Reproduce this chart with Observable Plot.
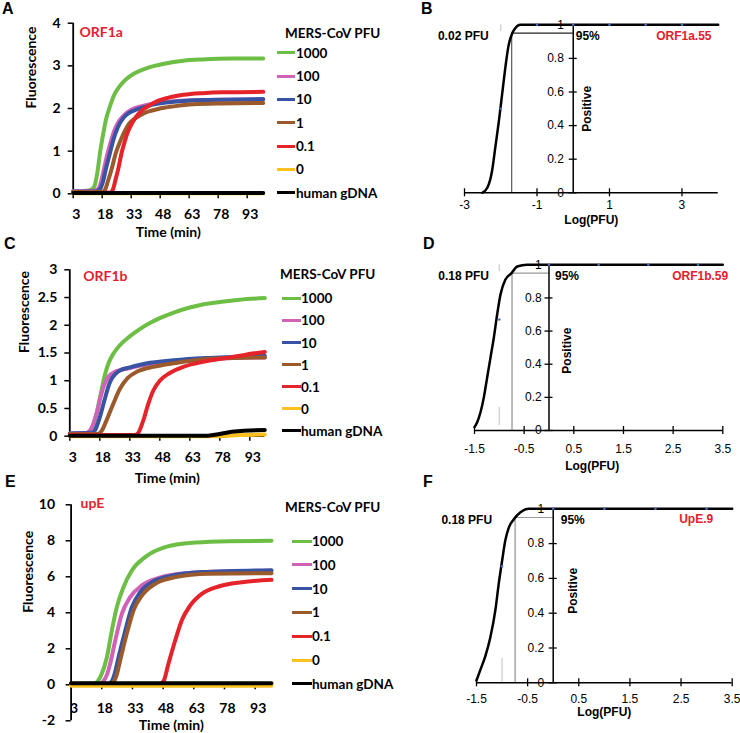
<!DOCTYPE html>
<html><head><meta charset="utf-8">
<script src="https://cdn.jsdelivr.net/npm/d3@7"></script>
<script src="https://cdn.jsdelivr.net/npm/@observablehq/plot@0.6"></script>
<style>
body{margin:0;background:#fff;}
#fig{position:relative;width:740px;height:733px;overflow:hidden;background:#fff;}
.pl{position:absolute;}
.letter{position:absolute;font:bold 16px "Liberation Sans",Arial,sans-serif;line-height:16px;}
.lg{position:absolute;font:bold 13.5px Lato,sans-serif;line-height:16px;white-space:nowrap;color:#000;}
.sw{position:absolute;height:3px;}
</style></head><body><div id="fig"></div>
<script>
// ---------- shared categories ----------
const pfuLevels = ["1000", "100", "10", "1", "0.1", "0", "human gDNA"];
const pfuColors = ["#6dbe45", "#d062b8", "#3853a4", "#9a5a2c", "#e6232b", "#fdc11f", "#000000"];
const timeTicks = [3, 18, 33, 48, 63, 78, 93];
const probTicks = [0, 0.2, 0.4, 0.6, 0.8, 1];
const hitLevel = 0.95;

// ---------- A: ORF1a fluorescence (time, value) ----------
const orf1a_1000 = [[3,0.06],[11,0.08],[12.5,0.1],[14,0.18],[15.5,0.5],[17,1.0],[18.5,1.4],[20,1.75],[22,2.05],[24,2.3],[27,2.52],[30,2.67],[35,2.83],[40,2.93],[45,3.0],[50,3.05],[60,3.12],[70,3.15],[85,3.17],[101.3,3.17]];
const orf1a_100  = [[3,0.06],[14,0.07],[16,0.12],[17.5,0.3],[19,0.6],[20.5,0.9],[22,1.15],[24,1.45],[26,1.65],[29,1.83],[33,1.97],[38,2.05],[45,2.12],[55,2.17],[70,2.2],[101.3,2.21]];
const orf1a_10   = [[3,0.05],[15,0.06],[17,0.12],[18.5,0.3],[20,0.6],[22,0.95],[24,1.3],[26,1.55],[29,1.78],[32,1.9],[36,1.98],[40,2.04],[48,2.12],[55,2.16],[70,2.2],[101.3,2.22]];
const orf1a_1    = [[3,0.04],[18,0.05],[19.5,0.1],[21,0.3],[23,0.6],[25,0.95],[27.5,1.25],[30,1.5],[32,1.65],[35,1.77],[38,1.85],[42,1.93],[47,1.99],[55,2.05],[65,2.1],[80,2.12],[101.3,2.13]];
const orf1a_01   = [[3,0.02],[22,0.03],[23.5,0.1],[25,0.35],[26.5,0.62],[28,0.95],[29.5,1.2],[31,1.42],[33,1.62],[35.5,1.8],[38,1.93],[42,2.06],[46,2.16],[52,2.25],[60,2.32],[70,2.36],[80,2.38],[101.3,2.39]];
const orf1a_0    = [[3,0.01],[101.3,0.01]];
const orf1a_gDNA = [[3,0.02],[101.3,0.02]];

// ---------- C: ORF1b fluorescence ----------
const orf1b_1000 = [[3,0.05],[12,0.06],[14,0.12],[16,0.35],[18,0.68],[20.5,1.1],[22.5,1.33],[25,1.5],[28,1.64],[33,1.8],[38,1.93],[43,2.04],[48,2.13],[55,2.23],[63,2.32],[70,2.38],[78,2.42],[88,2.46],[100.5,2.49]];
const orf1b_100  = [[3,0.05],[11,0.06],[13,0.1],[15,0.25],[16.5,0.42],[18.5,0.72],[20.5,0.95],[22.5,1.08],[25,1.15],[28,1.19],[32,1.22],[38,1.27],[45,1.31],[55,1.35],[70,1.39],[85,1.41],[100.5,1.42]];
const orf1b_10   = [[3,0.05],[14,0.06],[15.5,0.1],[18,0.34],[20.5,0.67],[23,0.97],[26,1.13],[29,1.2],[33,1.24],[41,1.31],[55,1.37],[71,1.41],[85,1.43],[100.5,1.45]];
const orf1b_1    = [[3,0.04],[17,0.04],[19,0.1],[21.3,0.28],[24.7,0.58],[28,0.85],[32,1.05],[37,1.17],[44.7,1.25],[56,1.32],[66,1.37],[76,1.4],[100.5,1.42]];
const orf1b_01   = [[3,0.02],[35,0.02],[37,0.05],[39.7,0.28],[42.2,0.58],[44.7,0.82],[48,1.0],[53,1.14],[59.7,1.25],[71,1.35],[81,1.41],[91,1.47],[100.5,1.52]];
const orf1b_0    = [[3,0.0],[78,0.0],[88,0.02],[100.5,0.03]];
const orf1b_gDNA = [[3,0.01],[72,0.01],[78,0.04],[84,0.08],[90,0.1],[100.5,0.11]];

// ---------- E: upE fluorescence ----------
const upE_1000 = [[3,0.05],[14,0.07],[16,0.2],[18,0.61],[20.5,1.53],[22.9,3.0],[25.3,4.3],[28.6,5.42],[32.7,6.35],[39.2,7.09],[49,7.65],[63.7,7.9],[80,7.98],[101,8.0]];
const upE_100  = [[3,0.05],[17,0.06],[18.8,0.2],[20.5,0.55],[22.1,1.17],[24.6,2.46],[27.8,3.94],[31.9,4.87],[37.6,5.52],[45.8,5.94],[58.8,6.2],[80,6.3],[101,6.33]];
const upE_10   = [[3,0.04],[21,0.05],[22.9,0.2],[24.5,0.7],[26.2,1.53],[29.5,3.02],[32.7,4.31],[36.8,5.15],[42.5,5.7],[50.7,6.02],[67,6.26],[101,6.37]];
const upE_1    = [[3,0.04],[22,0.05],[23.7,0.15],[25.3,0.55],[27,1.35],[30.2,2.83],[33.5,4.13],[37.6,4.96],[44.1,5.61],[54,5.98],[70.3,6.17],[101,6.2]];
const upE_01   = [[3,0.02],[46,0.02],[48.2,0.2],[50.6,1.17],[53.9,2.46],[57.1,3.57],[61.2,4.4],[66.9,5.05],[75.1,5.46],[86.5,5.7],[101,5.83]];
const upE_0    = [[3,-0.05],[101,-0.05]];
const upE_gDNA = [[3,0.08],[101,0.09]];

// ---------- B, D, F: probit fits (log PFU, fraction positive) ----------
const orf1a55Fit = [[-2.51,0],[-2.37,0.03],[-2.24,0.13],[-2.15,0.27],[-2.05,0.43],[-1.96,0.59],[-1.87,0.75],[-1.79,0.87],[-1.69,0.946],[-1.6,0.98],[-1.46,1],[4,1]];
const orf1b59Fit = [[-1.5,0.02],[-1.446,0.05],[-1.379,0.11],[-1.312,0.2],[-1.245,0.32],[-1.178,0.44],[-1.111,0.56],[-1.044,0.7],[-0.977,0.82],[-0.88,0.91],[-0.755,0.95],[-0.64,0.99],[-0.44,1],[3.5,1]];
const upE9Fit    = [[-1.5,0.013],[-1.43,0.07],[-1.33,0.15],[-1.23,0.26],[-1.13,0.42],[-1.065,0.57],[-1.0,0.7],[-0.935,0.82],[-0.87,0.89],[-0.77,0.94],[-0.64,0.98],[-0.48,1],[3.5,1]];
const orf1a55Hits = [[-2,0.5],[-1,1],[0,1],[1,1],[2,1],[3,1]];
const orf1b59Hits = [[-1,0.67],[0,1],[1,1],[2,1],[3,1]];
const upE9Hits    = [[-1,0.67],[0,1],[1,1],[2,1],[3,1]];
const orf1a55Faint = [[-2,0.96,1]];
const orf1b59Faint = [[-1,0.03,0.14],[-1,0.96,1]];
const upE9Faint    = [[-1,0,0.14]];
const lodPFU = [0.02, 0.18, 0.18];

const fig = document.getElementById("fig");
function place(node, left, top) {
  const d = document.createElement("div");
  d.className = "pl"; d.style.left = left + "px"; d.style.top = top + "px";
  d.appendChild(node); fig.appendChild(d);
}

function linePanel(p) {
  const {box, frame} = p;
  const mL = frame.l - box.left, mR = box.left + box.width - frame.r;
  const mT = frame.t - box.top, mB = box.top + box.height - frame.b;
  const innerH = frame.b - frame.t;
  const [y0, y1] = p.yDomain;
  const axisDy = -innerH * (0 - y0) / (y1 - y0);
  const rows = p.series.flatMap((pts, i) => pts.map(([t, v]) => ({t, v, level: pfuLevels[i]})));
  const svg = Plot.plot({
    width: box.width, height: box.height,
    marginLeft: mL, marginRight: mR, marginTop: mT, marginBottom: mB,
    style: {background: "none", overflow: "visible", fontFamily: "Lato, sans-serif", fontSize: "14px", fontWeight: "bold", color: "#000"},
    x: {domain: p.xDomain}, y: {domain: p.yDomain},
    color: {domain: pfuLevels, range: pfuColors},
    marks: [
      Plot.axisY({ticks: p.yTicks, tickFormat: d => String(d), tickSize: 5, tickPadding: p.yPad, label: null, strokeWidth: 1.5}),
      Plot.axisX({ticks: timeTicks, tickFormat: () => "", tickSize: 5, dy: axisDy, label: null, strokeWidth: 1.5}),
      Plot.axisX({ticks: timeTicks, tickFormat: d => String(d), tickSize: 0, tickPadding: p.xPad, dy: axisDy, dx: 3, label: null}),
      Plot.ruleX([p.xDomain[0]], {strokeWidth: 1.8}),
      Plot.ruleY([0], {strokeWidth: 1.8}),
      Plot.line(rows, {x: "t", y: "v", z: "level", stroke: "level", strokeWidth: 4, curve: "monotone-x"}),
      Plot.text([p.title], {frameAnchor: "top-left", lineAnchor: "middle", dx: p.titleDx, dy: p.titleDy, textAnchor: "start", fill: "#e5202e"}),
      Plot.text(["Fluorescence"], {frameAnchor: "left", lineAnchor: "middle", dx: p.fluorDx, rotate: -90}),
      Plot.text(["Time (min)"], {frameAnchor: "bottom", lineAnchor: "middle", dy: p.timeDy})
    ]
  });
  place(svg, box.left, box.top);
}

function logPanel(p) {
  const {box, frame} = p;
  const mL = frame.l - box.left, mR = box.left + box.width - frame.r;
  const mT = frame.t - box.top, mB = box.top + box.height - frame.b;
  const innerW = frame.r - frame.l;
  const [x0, x1] = p.xDomain;
  const D = innerW * (0 - x0) / (x1 - x0);
  const lodLog = Math.log10(p.lod);
  const svg = Plot.plot({
    width: box.width, height: box.height,
    marginLeft: mL, marginRight: mR, marginTop: mT, marginBottom: mB,
    style: {background: "none", overflow: "visible", fontFamily: "'Liberation Sans', Arial, sans-serif", fontSize: "12px", color: "#000"},
    x: {domain: p.xDomain}, y: {domain: [0, 1]},
    marks: [
      Plot.ruleX(p.faint, {x: d => d[0], y1: d => d[1], y2: d => d[2], stroke: "#cfcfcf", strokeWidth: 1.3}),
      Plot.ruleX([lodLog], {y1: () => 0, y2: () => hitLevel, stroke: p.lodColor, strokeWidth: 1.3}),
      Plot.ruleY([hitLevel], {x1: () => lodLog, x2: () => 0, stroke: p.hitColor, strokeWidth: 1.2}),
      Plot.ruleY([0], {strokeWidth: 1.5}),
      Plot.ruleX([0], {strokeWidth: 1.5}),
      Plot.axisX({ticks: p.xTicks, tickFormat: () => "", tickSize: 8, dy: -4, label: null, strokeWidth: 1.3}),
      Plot.axisX({ticks: p.xTicks, tickFormat: d => String(d), tickSize: 0, tickPadding: p.xPad, label: null}),
      Plot.axisY({ticks: probTicks, tickFormat: () => "", tickSize: 8, dx: D + 4, label: null, strokeWidth: 1.3}),
      Plot.axisY({ticks: probTicks, tickFormat: d => String(d), tickSize: 0, tickPadding: p.yPad, dx: D, label: null}),
      Plot.line(p.fit, {x: d => d[0], y: d => d[1], curve: "monotone-x", strokeWidth: 2.5}),
      Plot.dot(p.hits, {x: d => d[0], y: d => d[1], r: 1.3, fill: "#4a6fc7"}),
      Plot.text([`${p.lod} PFU`], {x: () => lodLog, y: () => hitLevel, dx: -23, dy: 3, textAnchor: "end", lineAnchor: "middle", fontWeight: "bold"}),
      Plot.text([Math.round(hitLevel * 100) + "%"], {x: () => 0, y: () => hitLevel, dx: p.pctDx, dy: 3, textAnchor: "start", lineAnchor: "middle", fontWeight: "bold"}),
      Plot.text([p.assay], {frameAnchor: "top-right", lineAnchor: "middle", dx: p.assayDx, dy: p.assayDy, textAnchor: "end", fill: "#e5202e", fontWeight: "bold"}),
      Plot.text(["Positive"], {x: () => 0, lineAnchor: "middle", dx: p.posDx, dy: p.posDy, rotate: -90, fontWeight: "bold"}),
      Plot.text(["Log(PFU)"], {frameAnchor: "bottom", lineAnchor: "middle", dx: p.logDx, dy: p.logDy, fontWeight: "bold"})
    ]
  });
  place(svg, box.left, box.top);
}

function legend(l) {
  const t = document.createElement("div");
  t.className = "lg"; t.textContent = "MERS-CoV PFU";
  t.style.left = l.titleX + "px"; t.style.top = (l.titleY - 8) + "px";
  fig.appendChild(t);
  pfuLevels.forEach((name, i) => {
    const cy = l.rowY + i * l.step;
    const s = document.createElement("div");
    s.className = "sw"; s.style.left = l.swX + "px"; s.style.width = l.swW + "px";
    s.style.top = (cy - 1.5) + "px"; s.style.background = pfuColors[i];
    fig.appendChild(s);
    const tx = document.createElement("div");
    tx.className = "lg"; tx.textContent = name;
    tx.style.left = l.textX + "px"; tx.style.top = (cy - 8) + "px";
    fig.appendChild(tx);
  });
}

function letter(ch, x, y) {
  const d = document.createElement("div");
  d.className = "letter"; d.textContent = ch;
  d.style.left = x + "px"; d.style.top = y + "px";
  fig.appendChild(d);
}

linePanel({title: "ORF1a", series: [orf1a_1000, orf1a_100, orf1a_10, orf1a_1, orf1a_01, orf1a_0, orf1a_gDNA],
  box: {left: 0, top: 0, width: 270, height: 245}, frame: {l: 72.7, r: 262.7, t: 22.7, b: 193.3},
  xDomain: [3, 101.3], yDomain: [0, 4], yTicks: [0, 1, 2, 3, 4], yPad: 7.5, xPad: 15,
  titleDx: 6.3, titleDy: 9.3, fluorDx: -42, timeDy: 39});
linePanel({title: "ORF1b", series: [orf1b_1000, orf1b_100, orf1b_10, orf1b_1, orf1b_01, orf1b_0, orf1b_gDNA],
  box: {left: 0, top: 240, width: 270, height: 245}, frame: {l: 69.3, r: 264.3, t: 269.3, b: 435.7},
  xDomain: [3, 100.5], yDomain: [0, 3], yTicks: [0, 0.5, 1, 1.5, 2, 2.5, 3], yPad: 7.5, xPad: 16,
  titleDx: 13.4, titleDy: 6.7, fluorDx: -45, timeDy: 42});
linePanel({title: "upE", series: [upE_1000, upE_100, upE_10, upE_1, upE_01, upE_0, upE_gDNA],
  box: {left: 0, top: 480, width: 280, height: 253}, frame: {l: 70.6, r: 271, t: 504.3, b: 720.3},
  xDomain: [3, 101], yDomain: [-2, 10], yTicks: [-2, 0, 2, 4, 6, 8, 10], yPad: 11, xPad: 18,
  titleDx: 9.4, titleDy: -1.3, fluorDx: -43, timeDy: 5});

logPanel({assay: "ORF1a.55", lod: lodPFU[0], fit: orf1a55Fit, hits: orf1a55Hits, faint: orf1a55Faint,
  box: {left: 390, top: 0, width: 350, height: 235}, frame: {l: 464, r: 717.7, t: 24.3, b: 192.3},
  xDomain: [-3, 4], xTicks: [-3, -1, 1, 3], xPad: 7.5, yPad: 9.4, lodColor: "#666", hitColor: "#222",
  pctDx: 2.5, assayDx: -6.7, assayDy: 11.2, posDx: 14, posDy: 0, logDx: 0, logDy: 27.5});
logPanel({assay: "ORF1b.59", lod: lodPFU[1], fit: orf1b59Fit, hits: orf1b59Hits, faint: orf1b59Faint,
  box: {left: 390, top: 240, width: 350, height: 235}, frame: {l: 474, r: 722.3, t: 264.3, b: 430},
  xDomain: [-1.5, 3.5], xTicks: [-1.5, -0.5, 0.5, 1.5, 2.5, 3.5], xPad: 14, yPad: 7.3, lodColor: "#999", hitColor: "#999",
  pctDx: 6, assayDx: 5.4, assayDy: 11.2, posDx: 17.7, posDy: 3, logDx: -6.5, logDy: 36});
logPanel({assay: "UpE.9", lod: lodPFU[2], fit: upE9Fit, hits: upE9Hits, faint: upE9Faint,
  box: {left: 390, top: 480, width: 350, height: 253}, frame: {l: 476, r: 731.7, t: 508.3, b: 682.3},
  xDomain: [-1.5, 3.5], xTicks: [-1.5, -0.5, 0.5, 1.5, 2.5, 3.5], xPad: 12, yPad: 9, lodColor: "#999", hitColor: "#999",
  pctDx: 7.5, assayDx: -19, assayDy: 10.7, posDx: 20, posDy: -5, logDx: 0, logDy: 29.5});

legend({titleX: 285, titleY: 33, swX: 277, swW: 18, textX: 296, rowY: 52.7, step: 23.33});
legend({titleX: 280, titleY: 274, swX: 282, swW: 19, textX: 301, rowY: 298.3, step: 22.1});
legend({titleX: 285, titleY: 506.7, swX: 292, swW: 20, textX: 312, rowY: 541, step: 23.8});

letter("A", 2, 1); letter("B", 421, 1);
letter("C", 4, 236); letter("D", 423, 236);
letter("E", 5, 474); letter("F", 423, 474);
</script></body></html>
